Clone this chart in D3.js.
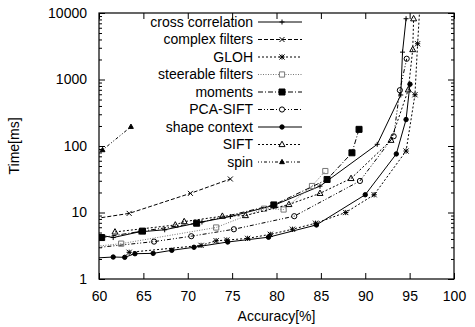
<!DOCTYPE html>
<html>
<head>
<meta charset="utf-8">
<script src="https://cdn.jsdelivr.net/npm/d3@7"></script>
<style>
  body { margin: 0; background: #fff; }
  text { font-family: "Liberation Sans", Arial, sans-serif; }
</style>
</head>
<body>
<svg width="475" height="327"></svg>
<script>
// data: [accuracy %, time ms]
const seriesNames = ["cross correlation", "complex filters", "GLOH", "steerable filters",
  "moments", "PCA-SIFT", "shape context", "SIFT", "spin"];

const crossCorrelation = [[59.6, 4.7], [61.6, 4.2], [64.5, 5.1], [67.4, 5.5], [71.6, 7.2], [74.8, 8.7],
  [79.7, 12.8], [84.9, 24.9], [91.35, 106], [94.0, 585], [94.2, 2580], [94.6, 8200]];
const complexFilters = [[59.6, 8.1], [63.4, 9.7], [70.3, 19.4], [74.8, 31.9]];
const gloh = [[63.4, 2.52], [71.5, 3.2], [73.2, 3.76], [74.4, 3.85], [76.75, 4.08], [79.3, 4.7],
  [81.8, 5.6], [84.4, 6.9], [87.8, 10.0], [91.0, 18.5], [94.6, 84], [95.6, 590], [95.9, 3450], [96.2, 16000]];
const steerableFilters = [[59.6, 3.1], [62.5, 3.4], [73.2, 5.95], [78.6, 11.4], [80.8, 11.1],
  [84.0, 25], [85.5, 42]];
const moments = [[60.3, 4.2], [64.9, 5.25], [71.0, 6.9], [79.7, 13], [85.7, 31.4], [88.5, 79], [89.3, 178]];
const pcaSift = [[59.6, 2.95], [66.2, 3.65], [70.4, 4.4], [75.2, 5.6], [82.0, 8.8], [89.4, 29.8],
  [93.2, 140], [93.9, 690], [94.67, 2050]];
const shapeContext = [[59.6, 2.07], [61.6, 2.14], [62.9, 2.12], [64.05, 2.4], [66.1, 2.43], [68.2, 2.7],
  [70.7, 3.0], [74.5, 3.6], [79.1, 4.25], [84.5, 6.5], [90.0, 18.5], [93.5, 76], [94.6, 250], [95.04, 850]];
const sift = [[61.8, 5.1], [68.6, 6.5], [69.6, 7.3], [73.9, 8.8], [76.5, 9.0], [81.4, 13.2], [84.9, 19.4],
  [88.4, 32.5], [92.9, 122], [94.85, 700], [95.35, 2820], [95.45, 8200]];
const spin = [[60.4, 87], [63.6, 195]];

const xTicks = [60, 65, 70, 75, 80, 85, 90, 95, 100];
const yTicks = [1, 10, 100, 1000, 10000];

const series = [
  { name: seriesNames[0], data: crossCorrelation, dash: null, color: "#000", mark: "plus", size: 2.5 },
  { name: seriesNames[1], data: complexFilters, dash: "4,2", color: "#000", mark: "cross", size: 2.5 },
  { name: seriesNames[2], data: gloh, dash: "2,2", color: "#000", mark: "star", size: 2.6 },
  { name: seriesNames[3], data: steerableFilters, dash: "1,1.5", color: "#777", mark: "square", size: 2.6 },
  { name: seriesNames[4], data: moments, dash: "5,2,1,2", color: "#000", mark: "fsquare", size: 3 },
  { name: seriesNames[5], data: pcaSift, dash: "4,2,1,2,1,2", color: "#000", mark: "circle", size: 2.6 },
  { name: seriesNames[6], data: shapeContext, dash: null, color: "#000", mark: "fcircle", size: 2.2 },
  { name: seriesNames[7], data: sift, dash: "2,2", color: "#000", mark: "triangle", size: 3 },
  { name: seriesNames[8], data: spin, dash: "1,2,1,2,3,2", color: "#000", mark: "ftriangle", size: 2.4 }
];

const svg = d3.select("svg");
const pLeft = 99, pRight = 454, pTop = 13, pBottom = 279;

const x = d3.scaleLinear().domain([60, 100]).range([pLeft, pRight]);
const y = d3.scaleLog().domain([1, 10000]).range([pBottom, pTop]);

svg.append("defs").append("clipPath").attr("id", "plot")
  .append("rect").attr("x", pLeft).attr("y", pTop).attr("width", pRight - pLeft).attr("height", pBottom - pTop);

// axes with inward ticks, mirrored on top and right
const fmt = d => yTicks.includes(d) ? d : "";
const minorY = y.ticks().filter(d => !yTicks.includes(d));

function styleAxis(g) {
  g.select(".domain").remove();
  g.selectAll("line").attr("stroke", "#000");
  g.selectAll("text").attr("font-size", 14).attr("fill", "#000");
}

svg.append("g").attr("transform", `translate(0,${pBottom})`)
  .call(d3.axisBottom(x).tickValues(xTicks).tickSize(-6).tickPadding(12))
  .call(styleAxis);
svg.append("g").attr("transform", `translate(0,${pTop})`)
  .call(d3.axisTop(x).tickValues(xTicks).tickSize(-6).tickFormat(""))
  .call(styleAxis);
svg.append("g").attr("transform", `translate(${pLeft},0)`)
  .call(d3.axisLeft(y).tickValues(yTicks).tickSize(-6).tickPadding(12).tickFormat(fmt))
  .call(styleAxis);
svg.append("g").attr("transform", `translate(${pLeft},0)`)
  .call(d3.axisLeft(y).tickValues(minorY).tickSize(-3).tickFormat(""))
  .call(styleAxis);
svg.append("g").attr("transform", `translate(${pRight},0)`)
  .call(d3.axisRight(y).tickValues(yTicks).tickSize(-6).tickFormat(""))
  .call(styleAxis);
svg.append("g").attr("transform", `translate(${pRight},0)`)
  .call(d3.axisRight(y).tickValues(minorY).tickSize(-3).tickFormat(""))
  .call(styleAxis);

svg.append("rect").attr("x", pLeft).attr("y", pTop).attr("width", pRight - pLeft).attr("height", pBottom - pTop)
  .attr("fill", "none").attr("stroke", "#000").attr("stroke-width", 1.2);

svg.append("text").attr("x", (pLeft + pRight) / 2).attr("y", 321).attr("text-anchor", "middle")
  .attr("font-size", 14).text("Accuracy[%]");
svg.append("text").attr("transform", `translate(19,${(pTop + pBottom) / 2}) rotate(-90)`)
  .attr("text-anchor", "middle").attr("font-size", 14).text("Time[ms]");

function markPath(type, s) {
  switch (type) {
    case "plus": return `M${-s},0H${s}M0,${-s}V${s}`;
    case "cross": return `M${-s},${-s}L${s},${s}M${-s},${s}L${s},${-s}`;
    case "star": return `M${-s},0H${s}M0,${-s}V${s}M${-s},${-s}L${s},${s}M${-s},${s}L${s},${-s}`;
    case "square": case "fsquare": return `M${-s},${-s}H${s}V${s}H${-s}Z`;
    case "circle": case "fcircle": return d3.arc()({ innerRadius: 0, outerRadius: s, startAngle: 0, endAngle: 2 * Math.PI });
    default: return `M0,${-s * 1.1}L${s},${s * 0.7}L${-s},${s * 0.7}Z`;
  }
}
const filled = t => t === "fsquare" || t === "fcircle" || t === "ftriangle";

const line = d3.line().x(d => x(d[0])).y(d => y(d[1]));
const plot = svg.append("g").attr("clip-path", "url(#plot)");

series.forEach(s => {
  plot.append("path").datum(s.data).attr("d", line)
    .attr("fill", "none").attr("stroke", s.color).attr("stroke-width", 1)
    .attr("stroke-dasharray", s.dash);
  plot.selectAll(null).data(s.data).enter().append("path")
    .attr("transform", d => `translate(${x(d[0])},${y(d[1])})`)
    .attr("d", markPath(s.mark, s.size))
    .attr("fill", filled(s.mark) ? s.color : "none")
    .attr("stroke", s.color).attr("stroke-width", 1);
});

// legend
const legend = svg.append("g");
series.forEach((s, i) => {
  const ly = 22 + i * 17.5;
  legend.append("text").attr("x", 253).attr("y", ly).attr("dy", "0.35em")
    .attr("text-anchor", "end").attr("font-size", 14).text(s.name);
  legend.append("line").attr("x1", 258).attr("x2", 302).attr("y1", ly).attr("y2", ly)
    .attr("stroke", s.color).attr("stroke-width", 1).attr("stroke-dasharray", s.dash);
  legend.append("path").attr("transform", `translate(282,${ly})`)
    .attr("d", markPath(s.mark, s.size))
    .attr("fill", filled(s.mark) ? s.color : (s.mark === "square" || s.mark === "circle" || s.mark === "triangle" ? "#fff" : "none"))
    .attr("stroke", s.color).attr("stroke-width", 1);
});
</script>
</body>
</html>
